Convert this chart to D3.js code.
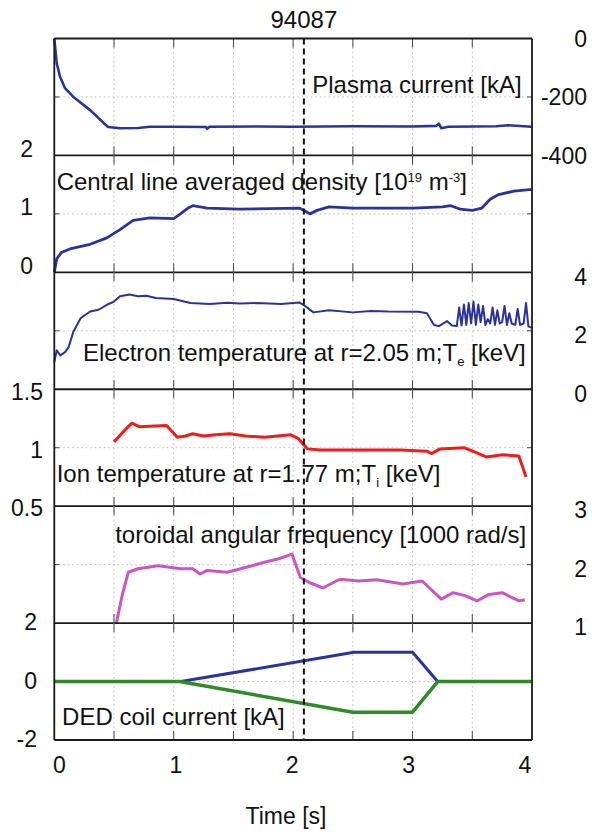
<!DOCTYPE html>
<html>
<head>
<meta charset="utf-8">
<script src="https://cdn.jsdelivr.net/npm/d3@7"></script>
<style>
  body { margin: 0; background: #fff; }
  text { font-family: "Liberation Sans", Arial, sans-serif; fill: #111; }
</style>
</head>
<body>
<div id="chart"></div>
<script>
// Shot number and time axis
const shotNumber = "94087";
const timeTicks = [0, 1, 2, 3, 4];
const timeGrid = [0.5, 1, 1.5, 2, 2.5, 3, 3.5];
const markerTime = 2.09;

// Series as [time s, value]
const plasmaCurrent = [[0,0],[0.02,-84],[0.048,-131],[0.09,-170],[0.16,-200],[0.3,-245],[0.45,-303],[0.55,-307],[0.7,-306],[0.8,-302],[1.0,-302],
  [1.27,-303],[1.28,-309],[1.3,-302],[1.7,-301],[2.0,-302],[2.5,-300],[3.0,-301],[3.2,-299],[3.22,-291],[3.24,-307],[3.3,-302],[3.7,-300],[3.8,-297],[4.0,-302]];
const density = [[0,0],[0.02,0.23],[0.06,0.34],[0.13,0.4],[0.3,0.48],[0.44,0.59],[0.55,0.73],[0.66,0.89],[0.8,0.93],[1.0,0.92],
  [1.05,0.99],[1.12,1.1],[1.16,1.14],[1.28,1.1],[1.55,1.08],[1.8,1.09],[2.05,1.1],[2.1,1.05],[2.14,1.0],
  [2.2,1.06],[2.3,1.12],[2.5,1.1],[3.0,1.1],[3.25,1.12],[3.32,1.14],[3.4,1.08],[3.5,1.06],[3.58,1.1],[3.65,1.25],[3.72,1.33],[3.85,1.39],[4.0,1.42]];
const electronTemp = [[0,0.92],[0.02,1.33],[0.05,1.16],[0.09,1.27],[0.12,1.44],[0.16,1.97],[0.22,2.43],[0.3,2.66],[0.37,2.72],[0.44,2.89],
  [0.5,3.0],[0.55,3.18],[0.63,3.24],[0.7,3.18],[0.77,3.2],[0.85,3.12],[1.0,3.09],[1.07,3.02],[1.14,2.95],[1.3,2.92],[1.45,2.96],[1.55,2.93],
  [1.7,2.95],[1.9,2.92],[2.05,2.97],[2.1,2.85],[2.17,2.63],[2.3,2.7],[2.5,2.63],[2.65,2.68],
  [2.8,2.66],[3.05,2.65],[3.12,2.6],[3.18,2.2],[3.22,2.16],[3.29,2.33],[3.33,2.18],[3.37,2.16],[3.39,2.8],[3.41,2.18],[3.43,2.9],[3.45,2.2],
  [3.47,2.95],[3.49,2.25],[3.51,3.0],[3.53,2.2],[3.55,2.9],[3.57,2.3],[3.59,2.85],[3.61,2.2],[3.63,2.4],[3.65,2.25],[3.67,2.8],[3.69,2.2],
  [3.71,2.7],[3.73,2.25],[3.75,2.3],[3.77,2.85],[3.79,2.2],[3.81,2.6],[3.83,2.25],[3.86,2.2],[3.88,2.75],[3.9,2.2],[3.93,2.25],[3.95,2.95],
  [3.97,2.15],[4.0,2.1]];
const ionTemp = [[0.5,1.05],[0.59,1.15],[0.65,1.21],[0.71,1.18],[0.94,1.19],[1.03,1.09],[1.1,1.1],[1.16,1.12],[1.25,1.1],[1.35,1.11],
  [1.47,1.12],[1.6,1.1],[1.76,1.09],[1.98,1.11],[2.04,1.08],[2.12,0.99],[2.23,0.98],[2.5,0.98],[2.7,0.98],[2.9,0.98],[3.12,0.97],
  [3.16,0.95],[3.23,0.99],[3.43,1.0],[3.53,0.96],[3.62,0.92],[3.75,0.94],[3.89,0.93],[3.95,0.75]];
const rotation = [[0.52,1.0],[0.57,1.49],[0.62,1.87],[0.7,1.93],[0.87,1.98],[1.06,1.93],[1.16,1.93],[1.22,1.84],[1.28,1.9],[1.45,1.87],
  [1.6,1.95],[1.76,2.04],[1.88,2.1],[1.99,2.18],[2.06,1.78],[2.14,1.69],[2.25,1.6],[2.39,1.75],[2.55,1.72],[2.7,1.74],[2.92,1.67],
  [3.08,1.72],[3.24,1.41],[3.34,1.52],[3.44,1.47],[3.54,1.38],[3.64,1.49],[3.75,1.52],[3.89,1.38],[3.94,1.40]];
const dedPositive = [[0,0],[1.06,0],[2.51,1.0],[3.0,1.0],[3.21,0],[4.0,0]];
const dedNegative = [[0,0],[1.05,0],[2.5,-1.05],[3.0,-1.05],[3.21,0],[4.0,0]];

// Axis tick labels per panel
const ipTicks = [-400, -200, 0];
const densityTicks = [0, 1, 2];
const teTicks = [0, 2, 4];
const tiTicks = [0.5, 1, 1.5];
const rotationTicks = [1, 2, 3];
const dedTicks = [-2, 0, 2];

// Layout
const plotLeft = 54.3, plotRight = 532, plotTop = 38.5, plotBottom = 740;
const panelH = (plotBottom - plotTop) / 6;

const svg = d3.select("#chart").append("svg")
    .attr("width", 592)
    .attr("height", 834);

const x = d3.scaleLinear().domain([0, 4]).range([plotLeft, plotRight]);
// tick labels of the scanned figure sit slightly inside the frame
const xLabel = d3.scaleLinear().domain([0, 4]).range([59.5, 525]);

const panels = [
  {domain: [-400, 0], ticks: ipTicks, side: "right", grid: -200, shift: 0,
   series: [{data: plasmaCurrent, color: "#2b3399", width: 2.6}],
   label: {t: 2.16, v: -185, parts: [["Plasma current [kA]"]]}},
  {domain: [0, 2], ticks: densityTicks, side: "left", grid: 1, labelX: 33, shift: -7,
   series: [{data: density, color: "#2b3399", width: 2.8}],
   label: {t: 0.02, v: 1.4, parts: [["Central line averaged density [10"], ["19", "sup"], [" m"], ["-3", "sup"], ["]"]]}},
  {domain: [0, 4], ticks: teTicks, side: "right", grid: 2, shift: 4,
   series: [{data: electronTemp, color: "#2b3399", width: 2}],
   label: {t: 0.24, v: 0.98, parts: [["Electron temperature at r=2.05 m;T"], ["e", "sub"], [" [keV]"]]}},
  {domain: [0.5, 1.5], ticks: tiTicks, side: "left", grid: 1, labelX: 43, shift: 2,
   series: [{data: ionTemp, color: "#f01c1c", width: 3}],
   label: {t: 0.02, v: 0.71, parts: [["Ion temperature at r=1.77 m;T"], ["i", "sub"], [" [keV]"]]}},
  {domain: [1, 3], ticks: rotationTicks, side: "right", grid: 2, shift: 4,
   series: [{data: rotation, color: "#c957c2", width: 3}],
   label: {t: 0.51, v: 2.37, parts: [["toroidal angular frequency [1000 rad/s]"]]}},
  {domain: [-2, 2], ticks: dedTicks, side: "left", grid: 0, labelX: 37, shift: -1,
   series: [{data: dedPositive, color: "#2b3399", width: 3}, {data: dedNegative, color: "#2f8a2a", width: 3.5}],
   label: {t: 0.065, v: -1.49, parts: [["DED coil current [kA]"]]}}
];

panels.forEach(function(p, i) {
    const y0 = plotTop + i * panelH, y1 = y0 + panelH;
    const y = d3.scaleLinear().domain(p.domain).range([y1, y0]);
    const g = svg.append("g");

    // dotted grid
    g.selectAll(".vgrid").data(timeGrid).join("line")
        .attr("x1", d => x(d)).attr("x2", d => x(d))
        .attr("y1", y0).attr("y2", y1)
        .attr("stroke", "#b8b8b8").attr("stroke-width", 1)
        .attr("stroke-dasharray", "1.5,3");
    g.append("line")
        .attr("x1", plotLeft).attr("x2", plotRight)
        .attr("y1", y(p.grid)).attr("y2", y(p.grid))
        .attr("stroke", "#b8b8b8").attr("stroke-width", 1)
        .attr("stroke-dasharray", "1.5,3");

    // inner tick marks top and bottom
    g.selectAll(".tt").data(timeGrid).join("line")
        .attr("x1", d => x(d)).attr("x2", d => x(d))
        .attr("y1", y0).attr("y2", y0 + 9)
        .attr("stroke", "#444").attr("stroke-width", 1);
    g.selectAll(".tb").data(timeGrid).join("line")
        .attr("x1", d => x(d)).attr("x2", d => x(d))
        .attr("y1", y1 - 9).attr("y2", y1)
        .attr("stroke", "#444").attr("stroke-width", 1);
    g.append("line")
        .attr("x1", plotLeft).attr("x2", plotLeft + 5)
        .attr("y1", y(p.grid)).attr("y2", y(p.grid))
        .attr("stroke", "#444");
    g.append("line")
        .attr("x1", plotRight - 5).attr("x2", plotRight)
        .attr("y1", y(p.grid)).attr("y2", y(p.grid))
        .attr("stroke", "#444");

    // series
    const line = d3.line().x(d => x(d[0])).y(d => y(d[1]));
    p.series.forEach(function(s) {
        g.append("path")
            .datum(s.data)
            .attr("fill", "none")
            .attr("stroke", s.color)
            .attr("stroke-width", s.width)
            .attr("stroke-linejoin", "round")
            .attr("d", line);
    });

    // y axis tick labels
    const labels = g.selectAll(".yl").data(p.ticks).join("text")
        .attr("y", d => y(d) + p.shift)
        .attr("dy", "0.36em")
        .style("font-size", "23px")
        .text(d => d);
    if (p.side === "right") {
        labels.attr("x", 587).attr("text-anchor", "end");
    } else {
        labels.attr("x", p.labelX).attr("text-anchor", "end");
    }

    // panel label, with super/subscripts
    const lab = g.append("text")
        .attr("x", x(p.label.t))
        .attr("y", y(p.label.v))
        .style("font-size", "24px");
    let shift = 0;
    p.label.parts.forEach(function(part) {
        const ts = lab.append("tspan").text(part[0]);
        let target = 0;
        if (part[1] === "sup") { target = -8; ts.style("font-size", "13px"); }
        if (part[1] === "sub") { target = 5; ts.style("font-size", "13px"); }
        if (target !== shift) ts.attr("dy", target - shift);
        shift = target;
    });

    // panel separator line
    g.append("line")
        .attr("x1", plotLeft).attr("x2", plotRight)
        .attr("y1", y1).attr("y2", y1)
        .attr("stroke", "#1a1a1a").attr("stroke-width", 1.8);
});

// outer frame
svg.append("line").attr("x1", plotLeft).attr("x2", plotRight).attr("y1", plotTop).attr("y2", plotTop)
    .attr("stroke", "#1a1a1a").attr("stroke-width", 1.8);
svg.append("line").attr("x1", plotLeft).attr("x2", plotLeft).attr("y1", plotTop).attr("y2", plotBottom)
    .attr("stroke", "#1a1a1a").attr("stroke-width", 1.8);
svg.append("line").attr("x1", plotRight).attr("x2", plotRight).attr("y1", plotTop).attr("y2", plotBottom)
    .attr("stroke", "#1a1a1a").attr("stroke-width", 1.8);

// marker line
svg.append("line")
    .attr("x1", x(markerTime)).attr("x2", x(markerTime))
    .attr("y1", plotTop).attr("y2", plotBottom)
    .attr("stroke", "#111").attr("stroke-width", 2)
    .attr("stroke-dasharray", "6,4");

// shot number
svg.append("text")
    .attr("x", x(markerTime))
    .attr("y", 28)
    .attr("text-anchor", "middle")
    .style("font-size", "24px")
    .text(shotNumber);

// x axis labels
svg.selectAll(".xl").data(timeTicks).join("text")
    .attr("x", d => xLabel(d))
    .attr("y", 773)
    .attr("text-anchor", "middle")
    .style("font-size", "23px")
    .text(d => d);

svg.append("text")
    .attr("x", 286)
    .attr("y", 824)
    .attr("text-anchor", "middle")
    .style("font-size", "23px")
    .text("Time [s]");
</script>
</body>
</html>
